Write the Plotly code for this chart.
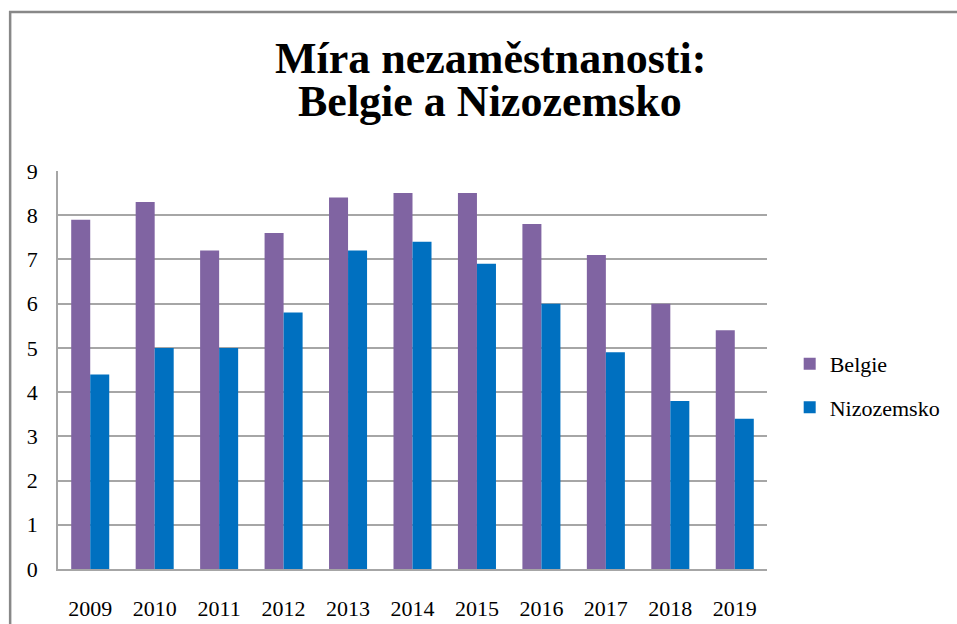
import plotly.graph_objects as go

years = ["2009", "2010", "2011", "2012", "2013", "2014", "2015", "2016", "2017", "2018", "2019"]
belgie = [7.9, 8.3, 7.2, 7.6, 8.4, 8.5, 8.5, 7.8, 7.1, 6.0, 5.4]
nizozemsko = [4.4, 5.0, 5.0, 5.8, 7.2, 7.4, 6.9, 6.0, 4.9, 3.8, 3.4]
y_ticks = [0, 1, 2, 3, 4, 5, 6, 7, 8, 9]
title_lines = ["Míra nezaměstnanosti:", "Belgie a Nizozemsko"]

SERIF = "Liberation Serif"
GRID = "#A6A6A6"

fig = go.Figure()
fig.add_trace(go.Bar(
    x=years, y=belgie, name="Belgie", legendgroup="b",
    marker=dict(color="#8064A2", line=dict(width=0)),
))
fig.add_trace(go.Bar(
    x=years, y=nizozemsko, name="Nizozemsko", legendgroup="n",
    marker=dict(color="#0070C0", line=dict(width=0)),
))

# chart border (Excel-style frame, runs off the right and bottom edges)
fig.add_shape(
    type="rect", xref="paper", yref="paper",
    x0=-0.0675, x1=1.3, y0=-0.2, y1=1.3995,
    line=dict(color="#888888", width=2.5), layer="below",
)

# two-line title, placed line by line for tighter spacing
for text, ypos in zip(title_lines, [1.283, 1.175]):
    fig.add_annotation(
        text=f"<b>{text}</b>", xref="paper", yref="paper",
        x=0.61, y=ypos, xanchor="center", yanchor="middle",
        showarrow=False, font=dict(family=SERIF, size=44, color="black"),
    )

fig.update_layout(
    width=957, height=624,
    margin=dict(l=58, r=188, t=171, b=55),
    paper_bgcolor="white", plot_bgcolor="white",
    font=dict(family=SERIF, size=22, color="black"),
    barmode="group", bargap=0.41, bargroupgap=0,
    showlegend=True,
    legend=dict(
        x=1.032, xanchor="left", y=0.46, yanchor="middle",
        font=dict(family=SERIF, size=22),
        tracegroupgap=12, itemwidth=30,
        bgcolor="rgba(0,0,0,0)",
    ),
    xaxis=dict(
        showline=True, linecolor=GRID, linewidth=1.5, automargin=False,
        showgrid=False, ticks="", ticklabelstandoff=19,
        tickfont=dict(family=SERIF, size=22),
    ),
    yaxis=dict(
        range=[0, 9], tickvals=y_ticks, showline=True, linecolor=GRID, linewidth=1.5,
        showgrid=True, gridcolor=GRID, gridwidth=1.5, zeroline=False, automargin=False,
        ticks="", ticklabelstandoff=14,
        tickfont=dict(family=SERIF, size=22),
    ),
)

# drop the default page margin so the figure sits at the window's corner
fig.write_html(
    "out.html",
    config={"displayModeBar": False},
    post_script="document.body.style.margin='0';document.body.style.overflow='hidden';",
)
